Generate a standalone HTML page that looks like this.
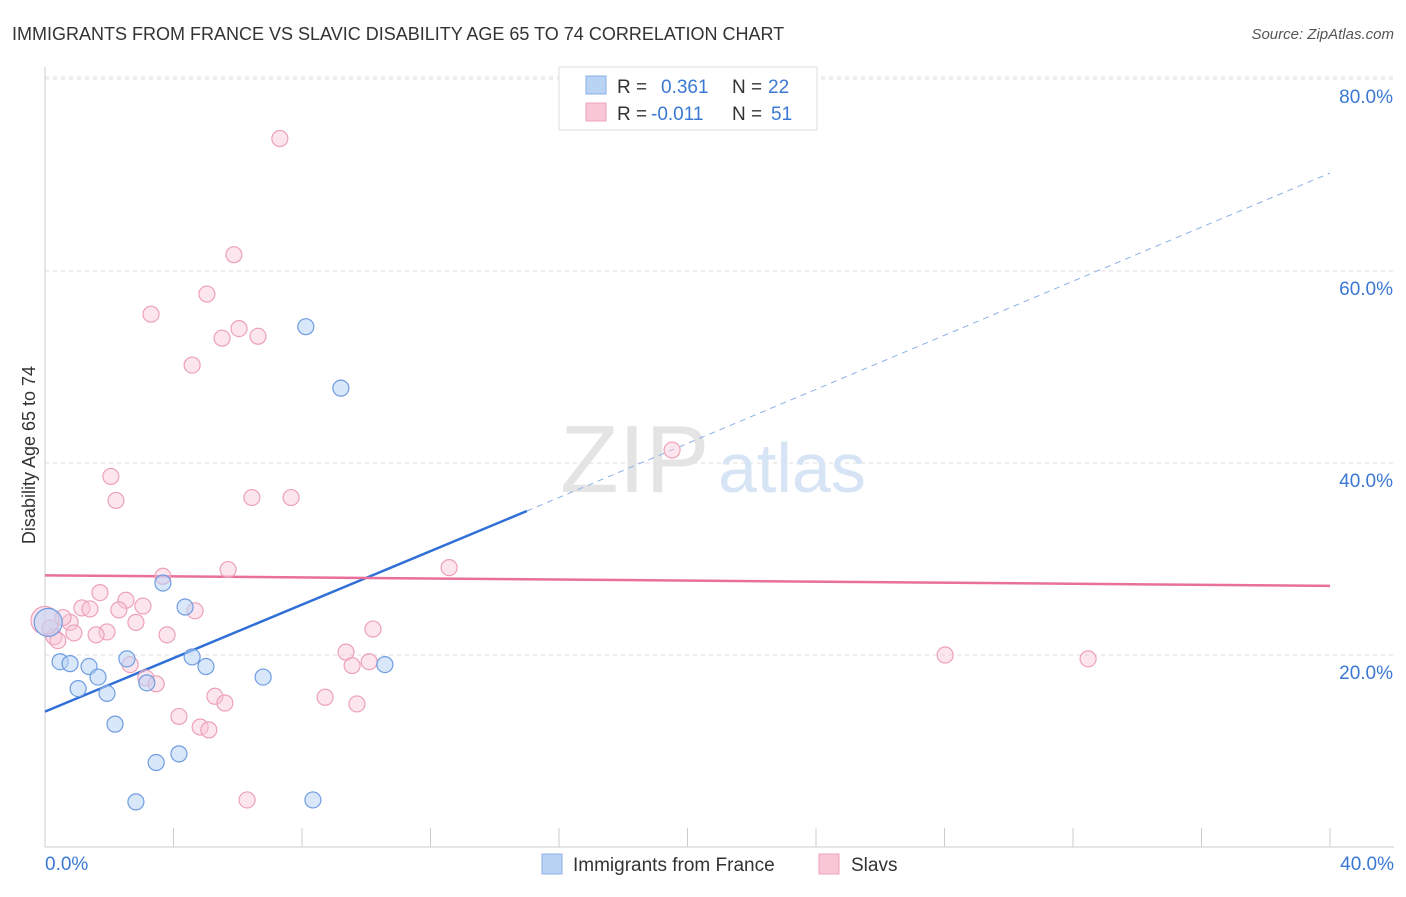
<!DOCTYPE html>
<html><head><meta charset="utf-8"><style>
body{margin:0;background:#fff;font-family:"Liberation Sans",sans-serif}
svg text{font-family:"Liberation Sans",sans-serif}
</style></head><body>
<svg id="chart" width="1406" height="892">
<text x="12" y="40" font-size="18" fill="#333">IMMIGRANTS FROM FRANCE VS SLAVIC DISABILITY AGE 65 TO 74 CORRELATION CHART</text>
<text x="1394" y="39" font-size="15" fill="#555" font-style="italic" text-anchor="end">Source: ZipAtlas.com</text>
<text x="35" y="455" font-size="18" fill="#333" text-anchor="middle" transform="rotate(-90 35 455)">Disability Age 65 to 74</text>
<g id="grid"></g>
<g id="axes"></g>
<text x="560" y="492" font-size="96" fill="#e4e4e4" font-family="Liberation Serif">ZIP</text>
<text x="718" y="492" font-size="70" fill="#d6e4f5">atlas</text>
<g id="lines"></g>
<g id="pts"></g>
<g>
<rect x="559" y="67" width="258" height="63" fill="#fff" stroke="#ddd"/>
<rect x="586" y="76" width="20" height="18" fill="#b9d3f5" stroke="#8ab0e6"/>
<rect x="586" y="103" width="20" height="18" fill="#f9c6d6" stroke="#eca1b9"/>
<text x="617" y="93" font-size="19" fill="#333">R = <tspan fill="#3a78d4" x="661">0.361</tspan><tspan x="732" fill="#333">N = </tspan><tspan fill="#3a78d4" x="768">22</tspan></text>
<text x="617" y="120" font-size="19" fill="#333">R = <tspan fill="#3a78d4" x="651">-0.011</tspan><tspan x="732" fill="#333">N = </tspan><tspan fill="#3a78d4" x="771">51</tspan></text>
</g>
<g>
<rect x="542" y="854" width="20" height="20" fill="#b9d3f5" stroke="#8ab0e6"/>
<text x="573" y="871" font-size="19" fill="#333">Immigrants from France</text>
<rect x="819" y="854" width="20" height="20" fill="#f9c6d6" stroke="#eca1b9"/>
<text x="851" y="871" font-size="19" fill="#333">Slavs</text>
</g>
</svg>
<script>
const xTicks=[0,4,8,12,16,20,24,28,32,36,40];
const yTicks=[20,40,60,80];
const blueX=[0.1,0.47,0.78,1.37,1.03,1.65,1.93,2.18,2.55,3.17,3.67,4.36,4.58,5.01,3.46,4.17,2.83,6.79,8.34,8.12,9.21,10.58];
const blueY=[23.4,19.3,19.1,18.8,16.5,17.7,16.0,12.8,19.6,17.1,27.5,25.0,19.8,18.8,8.8,9.7,4.7,17.7,4.9,54.2,47.8,19.0];
const pinkX=[7.31,5.88,5.04,3.3,6.04,5.51,6.63,4.58,2.05,2.21,6.44,7.66,19.52,12.58,5.7,3.67,1.71,2.52,3.05,1.15,1.4,2.3,4.67,2.83,0.78,0.56,1.93,1.59,0.9,0.28,0.4,3.8,10.21,9.37,9.56,10.09,2.65,3.14,3.46,5.29,5.6,8.72,9.71,4.17,4.83,5.1,6.29,28.02,32.47,0.16,0.0];
const pinkY=[73.8,61.7,57.6,55.5,54.0,53.0,53.2,50.2,38.6,36.1,36.4,36.4,41.35,29.1,28.9,28.2,26.5,25.7,25.1,24.9,24.8,24.7,24.6,23.4,23.4,23.9,22.4,22.1,22.3,21.9,21.5,22.1,22.7,20.3,18.9,19.3,19.0,17.6,17.0,15.7,15.0,15.6,14.9,13.6,12.5,12.2,4.9,20.0,19.6,22.8,23.6];
const blueTrend=[0,14.1,15,35.0,40,70.2];
const pinkTrend=[0,28.3,40,27.2];
const X=v=>45+v*32.125, Y=v=>847-v*9.6;
const NS="http://www.w3.org/2000/svg";
function mk(t,a,p){const e=document.createElementNS(NS,t);for(const k in a)e.setAttribute(k,a[k]);p.appendChild(e);return e;}
const grid=document.getElementById('grid'),axes=document.getElementById('axes');
yTicks.forEach(v=>{
 const l=mk('line',{x1:45,x2:1394,y1:Y(v),y2:Y(v),stroke:'#ddd','stroke-dasharray':'4 4'},grid);
 
 
 const t=mk('text',{x:1393,y:Y(v)+24,'font-size':19,fill:'#3a78d4','text-anchor':'end'},axes);t.textContent=v.toFixed(1)+'%';
 
 
});
mk('line',{x1:45,x2:1394,y1:Y(80)-2,y2:Y(80)-2,stroke:'#ddd','stroke-dasharray':'4 4'},grid);
mk('line',{x1:45,x2:45,y1:67,y2:847,stroke:'#ccc'},axes);
mk('line',{x1:45,x2:1394,y1:847,y2:847,stroke:'#ccc'},axes);
xTicks.forEach(v=>{const l=mk('line',{x1:X(v),x2:X(v),y1:828,y2:847,stroke:'#ccc'},axes);
 
 });
[[0,'start',45],[40,'end',1394]].forEach(([v,a,x])=>{const t=mk('text',{x:x,y:870,'font-size':19,fill:'#3a78d4','text-anchor':a},axes);t.textContent=v.toFixed(1)+'%';
 
 });
const lines=document.getElementById('lines');
let b=mk('line',{x1:X(blueTrend[0]),y1:Y(blueTrend[1]),x2:X(blueTrend[2]),y2:Y(blueTrend[3]),stroke:'#2f6fd6','stroke-width':2.5},lines);


let bd=mk('line',{x1:X(blueTrend[2]),y1:Y(blueTrend[3]),x2:X(blueTrend[4]),y2:Y(blueTrend[5]),stroke:'#8ab0e6','stroke-width':1,'stroke-dasharray':'6 5'},lines);


let p=mk('line',{x1:X(pinkTrend[0]),y1:Y(pinkTrend[1]),x2:X(pinkTrend[2]),y2:Y(pinkTrend[3]),stroke:'#e8709a','stroke-width':2.5},lines);


const pts=document.getElementById('pts');
pinkX.forEach((x,i)=>{const c=mk('circle',{cx:X(x),cy:Y(pinkY[i]),r:i==50?14:8,fill:'rgba(249,198,214,0.45)',stroke:'#eca1b9','stroke-width':1.2},pts);
 
 });
blueX.forEach((x,i)=>{const c=mk('circle',{cx:X(x),cy:Y(blueY[i]),r:i==0?14:8,fill:'rgba(185,211,245,0.55)',stroke:'#6f9de0','stroke-width':1.2},pts);
 
 });
</script>
</body></html>
